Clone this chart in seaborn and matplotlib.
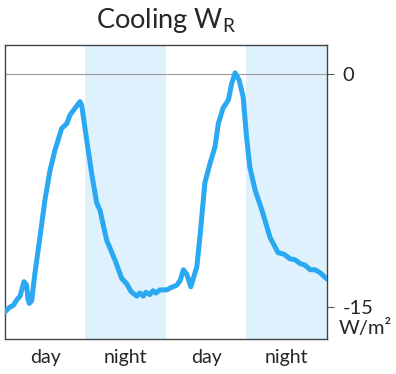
import numpy as np
import pandas as pd
import seaborn as sns
import matplotlib.pyplot as plt

# hours since start of first day, cooling power (W/m2)
hours = [0.0, 0.75, 1.24, 1.74, 2.24, 2.83, 3.23, 3.43, 3.62, 3.98, 4.47, 5.22, 5.96,
         6.71, 7.45, 8.45, 9.2, 9.69, 10.44, 10.88, 11.18, 11.43, 12.18, 12.92, 13.67,
         14.16, 15.16, 16.4, 17.4, 18.14, 18.78, 19.63, 20.1, 20.6, 21.0, 21.6, 22.07,
         22.5, 23.1, 24.1, 24.75, 25.6, 26.1, 26.6, 27.1, 27.7, 28.6, 29.1, 29.8, 30.6,
         31.3, 31.8, 32.5, 33.3, 33.8, 34.3, 34.9, 35.5, 36.0, 36.5, 37.3, 38.3, 39.5,
         40.7, 41.6, 42.5, 43.2, 44.0, 44.7, 45.5, 46.2, 47.0, 48.0]
cooling = [-15.3, -15.0, -14.9, -14.55, -14.3, -13.37, -13.6, -14.5, -14.77, -14.6, -12.8,
           -10.47, -8.1, -6.2, -4.9, -3.5, -3.2, -2.64, -2.2, -1.95, -1.78, -2.0, -4.25,
           -6.4, -8.3, -8.76, -10.7, -11.98, -13.16, -13.5, -14.0, -14.3, -14.1, -14.3,
           -14.05, -14.2, -13.95, -14.1, -13.9, -13.9, -13.75, -13.6, -13.3, -12.6, -12.9,
           -13.7, -12.4, -10.3, -7.0, -5.7, -4.7, -3.2, -2.2, -1.67, -0.6, 0.08, -0.39,
           -1.46, -4.0, -6.0, -7.5, -8.76, -10.5, -11.5, -11.6, -11.9, -11.95, -12.2,
           -12.3, -12.6, -12.6, -12.8, -13.2]
nights = [(12, 24), (36, 48)]
period_labels = ["day", "night", "day", "night"]
period_centers = [6, 18, 30, 42]

df = pd.DataFrame({"hour": hours, "cooling": cooling})

sns.set_style("white")
plt.rcParams['font.family'] = ['Lato', 'DejaVu Sans']

fig = plt.figure(figsize=(3.96, 3.74), dpi=100)
ax = fig.add_axes([0.0126, 0.0936, 0.8131, 0.7861])

for a, b in nights:
    ax.axvspan(a, b, color='#dff1fc', lw=0, zorder=0)
ax.axhline(0, color='#9a9a9a', lw=0.8, zorder=1)

sns.lineplot(data=df, x="hour", y="cooling", ax=ax, color='#2ba8f2', lw=3.6, zorder=3)

ax.set_xlim(0, 48)
ax.set_ylim(-17.06, 1.87)
ax.set_xlabel("")
ax.set_ylabel("")
ax.set_xticks(period_centers)
ax.set_xticklabels(period_labels, fontsize=14)
ax.tick_params(axis='x', length=0, pad=7)
ax.yaxis.tick_right()
ax.set_yticks([0, -15])
ax.set_yticklabels(["0", "-15"], fontsize=14.5)
ax.tick_params(axis='y', direction='out', length=5, width=0.8, color='#555555', pad=6)
ax.text(1.035, 0.068, "W/m²", transform=ax.transAxes, fontsize=14.5, va='top', ha='left')
for s in ax.spines.values():
    s.set_color('#444444')
    s.set_linewidth(1.0)

ax.set_title(r"Cooling W$_\mathregular{R}$", fontsize=19.5, pad=12)

plt.savefig("out.png", dpi=100)
